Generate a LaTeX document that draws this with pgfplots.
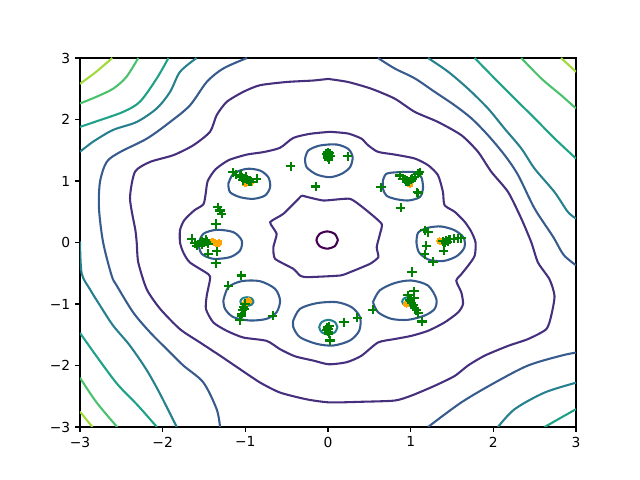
\documentclass[border=0pt]{standalone}
\usepackage{fontspec}
\setmainfont{DejaVu Sans}
\usepackage{pgfplots}
\pgfplotsset{compat=1.18}
\definecolor{c0}{HTML}{440154}
\definecolor{c1}{HTML}{46307E}
\definecolor{c2}{HTML}{375B8D}
\definecolor{c3}{HTML}{27808E}
\definecolor{c4}{HTML}{1FA188}
\definecolor{c5}{HTML}{4AC16D}
\definecolor{c6}{HTML}{A0DA39}
\definecolor{mplgreen}{HTML}{008000}
\definecolor{mplorange}{HTML}{FFA500}

\begin{document}
\begin{tikzpicture}
\begin{axis}[
  scale only axis, width=4.96in, height=3.69in,
  xmin=-3, xmax=3, ymin=-3, ymax=3,
  xtick={-3,-2,-1,0,1,2,3}, ytick={-3,-2,-1,0,1,2,3},
  xticklabels={−3,−2,−1,0,1,2,3},
  yticklabels={−3,−2,−1,0,1,2,3},
  tick align=outside, xtick pos=bottom, ytick pos=left,
  major tick length=3.5pt,
  tick style={black, line width=0.8pt},
  axis line style={line width=0.8pt},
  ticklabel style={font=\fontsize{10}{12}\selectfont},
  every axis plot/.append style={line width=1.5pt},
]
% center level
\addplot[c0, smooth] coordinates {(0.12,0.04) (0.082,0.139) (-0.01,0.18) (-0.102,0.139) (-0.14,0.04) (-0.102,-0.059) (-0.01,-0.10) (0.082,-0.059) (0.12,0.04)};
% octagon
\addplot[c1, smooth, tension=0.3] coordinates {(-0.318,0.764) (-0.056,0.683) (0.266,0.710) (0.468,0.520) (0.649,0.304) (0.629,0.141) (0.589,-0.076) (0.609,-0.239) (0.508,-0.347) (0.266,-0.483) (0.145,-0.537) (-0.258,-0.564) (-0.339,-0.537) (-0.42,-0.428) (-0.641,-0.265) (-0.661,-0.076) (-0.621,0.141) (-0.70,0.33) (-0.54,0.466) (-0.318,0.764)};
% blob round the modes
\addplot[c1, smooth, tension=0.4] coordinates {(0.024,1.80) (-0.218,1.767) (-0.42,1.70) (-0.58,1.54) (-0.78,1.47) (-0.98,1.43) (-1.2,1.34) (-1.36,1.19) (-1.455,1.0) (-1.48,0.79) (-1.508,0.62) (-1.62,0.52) (-1.74,0.36) (-1.79,0.2) (-1.79,0) (-1.75,-0.163) (-1.67,-0.325) (-1.448,-0.515) (-1.427,-0.596) (-1.467,-0.867) (-1.476,-1.084) (-1.387,-1.3) (-1.225,-1.436) (-1.024,-1.545) (-0.742,-1.6) (-0.58,-1.735) (-0.40,-1.85) (-0.178,-1.92) (0.01,-1.98) (0.226,-1.946) (0.403,-1.843) (0.605,-1.626) (0.806,-1.57) (1.008,-1.518) (1.21,-1.436) (1.41,-1.3) (1.573,-1.138) (1.633,-1.003) (1.613,-0.813) (1.552,-0.623) (1.613,-0.515) (1.694,-0.379) (1.774,-0.217) (1.785,0) (1.734,0.174) (1.654,0.336) (1.533,0.499) (1.41,0.607) (1.39,0.824) (1.33,1.095) (1.21,1.257) (1.048,1.366) (0.806,1.43) (0.605,1.474) (0.484,1.582) (0.403,1.69) (0.242,1.772) (0.024,1.80)};
% outer indigo
\addplot[c1, smooth, tension=0.4] coordinates {(0,2.66) (-0.178,2.634) (-0.5,2.61) (-0.823,2.557) (-1.024,2.45) (-1.225,2.287) (-1.347,2.07) (-1.427,1.80) (-1.63,1.58) (-1.87,1.42) (-2.153,1.31) (-2.335,1.15) (-2.395,0.715) (-2.33,0.2) (-2.314,0) (-2.295,-0.325) (-2.193,-0.76) (-2.03,-1.08) (-1.79,-1.41) (-1.548,-1.626) (-1.306,-1.84) (-1.064,-2.06) (-0.823,-2.276) (-0.58,-2.44) (-0.258,-2.55) (0.02,-2.6) (0.403,-2.59) (0.806,-2.57) (1.008,-2.49) (1.29,-2.33) (1.533,-2.17) (1.694,-2.0) (1.895,-1.84) (2.18,-1.68) (2.42,-1.57) (2.64,-1.41) (2.70,-1.19) (2.74,-0.87) (2.68,-0.6) (2.54,-0.325) (2.46,0) (2.338,0.39) (2.177,0.824) (1.975,1.15) (1.815,1.474) (1.613,1.745) (1.33,1.96) (1.048,2.125) (0.806,2.34) (0.524,2.50) (0.242,2.61) (0,2.66)};
% mode rings
\addplot[c2, smooth] coordinates {(-0.278,1.36) (-0.238,1.496) (-0.097,1.577) (0.105,1.593) (0.246,1.52) (0.298,1.387) (0.266,1.224) (0.165,1.117) (0.024,1.062) (-0.137,1.106) (-0.258,1.224) (-0.278,1.36)};
\addplot[c2, smooth] coordinates {(-1.206,0.954) (-1.145,1.117) (-0.984,1.198) (-0.823,1.17) (-0.722,1.062) (-0.70,0.90) (-0.762,0.764) (-0.903,0.71) (-1.064,0.737) (-1.185,0.818) (-1.206,0.954)};
\addplot[c2, smooth] coordinates {(0.665,1.008) (0.706,1.117) (0.847,1.143) (1.048,1.143) (1.129,1.062) (1.149,0.873) (1.109,0.737) (0.968,0.683) (0.806,0.71) (0.706,0.764) (0.665,0.873) (0.665,1.008)};
\addplot[c2, smooth] coordinates {(1.07,0) (1.09,0.16) (1.21,0.24) (1.37,0.26) (1.53,0.20) (1.64,0.08) (1.65,-0.08) (1.56,-0.22) (1.40,-0.30) (1.22,-0.28) (1.10,-0.16) (1.07,0)};
\addplot[c2, smooth] coordinates {(-1.569,-0.02) (-1.508,0.141) (-1.347,0.206) (-1.145,0.168) (-1.044,0.033) (-1.064,-0.13) (-1.185,-0.238) (-1.387,-0.265) (-1.528,-0.184) (-1.569,-0.02)};
\addplot[c2, smooth] coordinates {(-1.266,-0.943) (-1.206,-0.727) (-1.044,-0.629) (-0.823,-0.629) (-0.641,-0.753) (-0.58,-0.943) (-0.621,-1.133) (-0.742,-1.241) (-0.944,-1.268) (-1.145,-1.214) (-1.246,-1.079) (-1.266,-0.943)};
\addplot[c2, smooth] coordinates {(-0.42,-1.268) (-0.339,-1.079) (-0.137,-0.987) (0.105,-0.97) (0.286,-1.052) (0.387,-1.214) (0.379,-1.43) (0.266,-1.593) (0.064,-1.675) (-0.137,-1.648) (-0.339,-1.54) (-0.42,-1.377) (-0.42,-1.268)};
\addplot[c2, smooth] coordinates {(0.544,-0.97) (0.625,-0.78) (0.806,-0.66) (1.008,-0.618) (1.21,-0.70) (1.31,-0.916) (1.29,-1.079) (1.17,-1.187) (0.968,-1.257) (0.766,-1.241) (0.605,-1.133) (0.544,-0.97)};
% tiny rings inside modes
\addplot[c3, smooth] coordinates {(-0.90,-0.96) (-0.923,-0.91) (-0.98,-0.89) (-1.037,-0.91) (-1.06,-0.96) (-1.037,-1.01) (-0.98,-1.03) (-0.923,-1.01) (-0.90,-0.96)};
\addplot[c3, smooth] coordinates {(0.114,-1.377) (0.082,-1.292) (0.004,-1.257) (-0.074,-1.292) (-0.106,-1.377) (-0.074,-1.462) (0.004,-1.497) (0.082,-1.462) (0.114,-1.377)};
\addplot[c3, smooth] coordinates {(1.038,-0.96) (1.018,-0.91) (0.968,-0.89) (0.918,-0.91) (0.898,-0.96) (0.918,-1.01) (0.968,-1.03) (1.018,-1.01) (1.038,-0.96)};
% outer levels, left
\addplot[c2, smooth] coordinates {(-0.98,3.0) (-1.266,2.83) (-1.467,2.61) (-1.67,2.23) (-1.91,1.96) (-2.19,1.69) (-2.516,1.47) (-2.677,1.31) (-2.758,0.987) (-2.77,0.55) (-2.72,0) (-2.617,-0.54) (-2.556,-0.70) (-2.355,-1.14) (-2.153,-1.46) (-1.95,-1.735) (-1.75,-2.0) (-1.508,-2.276) (-1.347,-2.71) (-1.306,-3.0)};
\addplot[c3, smooth] coordinates {(-3,1.475) (-2.84,1.64) (-2.6,1.83) (-2.314,1.96) (-2.072,2.18) (-1.91,2.45) (-1.79,2.775) (-1.59,3.0)};
\addplot[c3, smooth] coordinates {(-3,0.02) (-2.98,-0.5) (-2.88,-0.76) (-2.76,-1.02) (-2.6,-1.35) (-2.4,-1.67) (-2.2,-2.06) (-2.04,-2.44) (-1.83,-3.0)};
\addplot[c4, smooth] coordinates {(-3,1.88) (-2.758,1.99) (-2.476,2.125) (-2.274,2.29) (-2.072,2.667) (-1.93,3.0)};
\addplot[c4, smooth] coordinates {(-3,-1.47) (-2.8,-1.85) (-2.55,-2.3) (-2.3,-2.65) (-2.07,-3.0)};
\addplot[c5, smooth] coordinates {(-3,2.26) (-2.8,2.37) (-2.6,2.50) (-2.44,2.69) (-2.295,3.0)};
\addplot[c5, smooth] coordinates {(-3,-2.2) (-2.8,-2.6) (-2.55,-3.0)};
\addplot[c6, smooth] coordinates {(-3,2.58) (-2.8,2.78) (-2.61,3.0)};
\addplot[c6, smooth] coordinates {(-3,-2.75) (-2.85,-3.0)};
% outer levels, right
\addplot[c2, smooth] coordinates {(0.605,3.0) (0.806,2.83) (1.048,2.67) (1.29,2.45) (1.533,2.23) (1.734,2.02) (1.935,1.745) (2.137,1.42) (2.30,1.095) (2.50,0.55) (2.72,0.1) (2.85,-0.2) (3,-0.37)};
\addplot[c2, smooth] coordinates {(3,-1.79) (2.82,-1.84) (2.42,-2.0) (2.016,-2.28) (1.613,-2.6) (1.21,-3.0)};
\addplot[c3, smooth] coordinates {(1.21,3.0) (1.45,2.78) (1.694,2.50) (1.935,2.18) (2.137,1.85) (2.338,1.53) (2.50,1.20) (2.74,0.82) (2.90,0.50) (3,0.39)};
\addplot[c3, smooth] coordinates {(3,-2.28) (2.62,-2.44) (2.258,-2.71) (2.056,-3.0)};
\addplot[c4, smooth] coordinates {(1.774,3.0) (2.016,2.667) (2.258,2.34) (2.50,2.02) (2.742,1.69) (3,1.366)};
\addplot[c4, smooth] coordinates {(3,-2.71) (2.62,-3.0)};
\addplot[c5, smooth] coordinates {(2.338,3.0) (2.58,2.667) (2.82,2.395) (3,2.18)};
\addplot[c6, smooth] coordinates {(2.82,3.0) (3,2.775)};
% samples
\addplot[only marks, mark=*, mark size=2.2pt, mplorange, mark options={draw=mplorange, fill=mplorange, line width=0pt}] coordinates {
(0.0,1.39) (-0.02,1.41) (-1.0,0.96) (-0.97,0.98) (-0.94,0.97) (-1.37,0.0) (-1.40,0.02) (-1.34,-0.02) (-1.32,0.0)
(-0.98,-0.97) (-1.0,-0.98) (-0.96,-0.95) (0,-1.40) (0.95,-1.0) (0.97,-0.96) (1.37,0.01) (1.35,0.03)
(0.99,0.95) (0.97,0.97)};
\addplot[only marks, mark=+, mark size=3.3pt, mplgreen, mark options={line width=1.5pt}] coordinates {
(0,1.47) (0.0,1.42) (-0.02,1.44) (0.02,1.45) (0,1.38) (-0.01,1.40) (0.01,1.35) (0.03,1.41)
(0.24,1.40) (-0.45,1.24) (-0.15,0.91) (0.64,0.90)
(-1.15,1.14) (-1.11,1.10) (-1.07,1.08) (-1.04,1.06) (-1.01,1.04) (-0.98,1.02) (-0.95,1.0) (-0.93,0.99) (-0.86,1.04) (-1.05,1.1) (-0.99,1.07) (-1.03,1.01)
(-1.335,0.574) (-1.306,0.52) (-1.286,0.47) (-1.355,0.30)
(-1.65,0.06) (-1.61,-0.01) (-1.59,-0.05) (-1.53,0.02) (-1.50,0.0) (-1.47,0.01) (-1.45,-0.02) (-1.52,-0.03) (-1.48,0.04) (-1.347,-0.14) (-1.448,-0.18) (-1.355,-0.336) (-1.05,-0.537)
(-1.206,-0.70) (-1.004,-1.0) (-1.024,-1.05) (-1.03,-1.1) (-1.044,-1.16) (-1.064,-1.26) (-1.01,-1.08) (-1.05,-1.2) (-0.669,-1.19)
(0,-1.40) (0.005,-1.45) (0.01,-1.485) (0.024,-1.593) (-0.01,-1.38) (-0.015,-1.42) (0.015,-1.36) (0.194,-1.295) (0.355,-1.224) (0.54,-1.094)
(1.016,-0.48) (1.04,-0.79) (0.968,-0.86) (0.99,-0.93) (1.01,-0.98) (1.03,-1.02) (1.05,-1.06) (1.07,-1.1) (1.09,-1.15) (1.137,-1.285) (1.0,-0.95) (1.04,-0.9)
(1.19,-0.05) (1.17,-0.19) (1.40,-0.135) (1.27,-0.31) (1.17,0.2) (1.21,0.17) (1.39,0.02) (1.43,0.03) (1.47,0.05) (1.52,0.06) (1.57,0.07) (1.61,0.07) (1.42,0.0) (1.45,0.01)
(0.867,1.09) (0.907,1.035) (0.95,1.0) (0.98,0.99) (1.008,1.02) (1.048,1.062) (1.089,1.117) (1.109,1.143) (0.645,0.90) (1.08,0.818) (1.09,0.80) (0.88,0.564) (0.93,1.03) (1.02,1.04)};
\end{axis}
\path ([xshift=-0.8in,yshift=-0.53in]current axis.south west) rectangle ([xshift=0.64in,yshift=0.58in]current axis.north east);
\end{tikzpicture}
\end{document}
